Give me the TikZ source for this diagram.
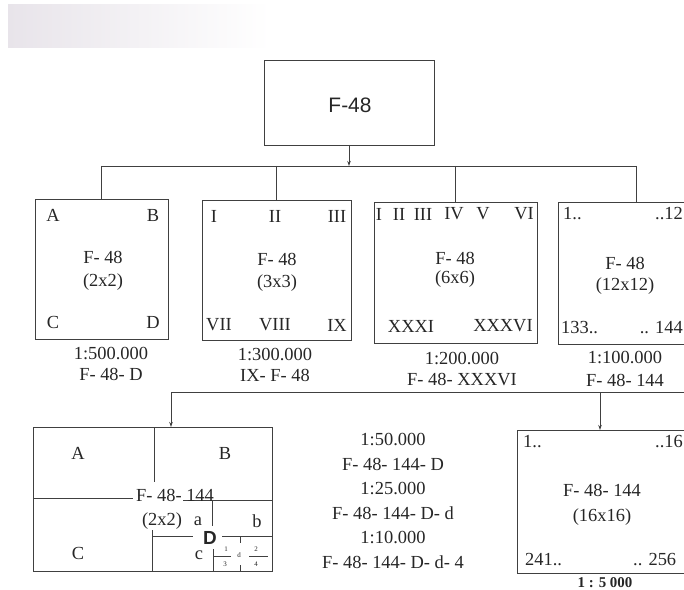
\documentclass[tikz,border=0pt]{standalone}
\usepackage{fontspec}
\setmainfont{Liberation Serif}
\newfontfamily\sansf{Liberation Sans}
\usetikzlibrary{arrows.meta}
\definecolor{scanshade}{RGB}{232,228,234}
\begin{document}
\begin{tikzpicture}[x=1bp,y=-1bp,
  line/.style={draw=black!75, line width=0.9bp},
  arr/.style={line, -{Stealth[length=5bp,width=3.5bp]}},
  box/.style={line, rectangle, inner sep=0pt, outer sep=0pt},
  txt/.style={inner sep=0pt, font=\fontsize{18.5}{21}\selectfont, text=black!85},
  tiny/.style={inner sep=0pt, font=\fontsize{7}{8}\selectfont, text=black!85},
]
\useasboundingbox (0,0) rectangle (684,590);
\shade[left color=scanshade, right color=white] (8,5) rectangle (270,48);

% top
\node[box, minimum width=170bp, minimum height=85bp] (top) at (349,102.5) {};
\node[inner sep=0pt, font=\sansf\fontsize{21}{24}\selectfont, text=black!85] (toptxt) at (350,105) {F-48};

% row 1 boxes
\node[box, minimum width=133bp, minimum height=140bp] (b1) at (101.5,269) {};
\node[box, minimum width=149bp, minimum height=140bp] (b2) at (276.5,270) {};
\node[box, minimum width=163bp, minimum height=141bp] (b3) at (455.5,272.5) {};
\node[box, minimum width=156bp, minimum height=142bp] (b4) at (636,273) {};

\coordinate (bus1) at (350,166);
\draw[arr] (top.south) -- (top.south |- bus1);
\draw[line] (b1.north |- bus1) -- (b4.north |- bus1);
\draw[line] (b1.north |- bus1) -- (b1.north);
\draw[line] (b2.north |- bus1) -- (b2.north);
\draw[line] (b3.north |- bus1) -- (b3.north);
\draw[line] (b4.north |- bus1) -- (b4.north);

% box 1 texts
\node[txt] (b1A) at (53,215) {A};
\node[txt] (b1B) at (153,215) {B};
\node[txt] (b1C) at (53,322) {C};
\node[txt] (b1D) at (153,322) {D};
\node[txt] (b1t1) at (103,257) {F- 48};
\node[txt] (b1t2) at (103,282) {(2x2)};
\node[txt] (b1s) at (111,353) {1:500.000};
\node[txt] (b1n) at (111,374) {F- 48- D};

% box 2 texts
\node[txt] (b2a) at (214,216) {I};
\node[txt] (b2b) at (275,216) {II};
\node[txt] (b2c) at (337,216) {III};
\node[txt] (b2t1) at (277,259) {F- 48};
\node[txt] (b2t2) at (277,283) {(3x3)};
\node[txt] (b2g) at (219,325) {VII};
\node[txt] (b2h) at (275,325) {VIII};
\node[txt] (b2i) at (337,325) {IX};
\node[txt] (b2s) at (275,354) {1:300.000};
\node[txt] (b2n) at (275,375) {IX- F- 48};

% box 3 texts
\node[txt] (b3r1) at (379,214) {I};
\node[txt] (b3r2) at (399,214) {II};
\node[txt] (b3r3) at (423,214) {III};
\node[txt] (b3r4) at (454,214) {IV};
\node[txt] (b3r5) at (483,214) {V};
\node[txt] (b3r6) at (524,214) {VI};
\node[txt] (b3t1) at (455,258) {F- 48};
\node[txt] (b3t2) at (455,279) {(6x6)};
\node[txt] (b3x1) at (411,326) {XXXI};
\node[txt] (b3x2) at (503,326) {XXXVI};
\node[txt] (b3s) at (462,358) {1:200.000};
\node[txt] (b3n) at (462,380) {F- 48- XXXVI};

% box 4 texts
\node[txt, anchor=west] (b4a) at (563,214) {1..};
\node[txt, anchor=east] (b4b) at (683,214) {..12};
\node[txt] (b4t1) at (625,263) {F- 48};
\node[txt] (b4t2) at (625,286) {(12x12)};
\node[txt, anchor=west] (b4c) at (561,328) {133..};
\node[txt, anchor=east] (b4d) at (683,328) {.. 144};
\node[txt] (b4s) at (625,357) {1:100.000};
\node[txt] (b4n) at (625,380) {F- 48- 144};

% row 2
\node[box, minimum width=239bp, minimum height=144bp] (b5) at (152.5,499) {};
\node[box, minimum width=183bp, minimum height=143bp] (b6) at (608.5,501.5) {};

\coordinate (bus2L) at (171,392);
\coordinate (bus2R) at (700,392);
\coordinate (d6) at (600,392);
\draw[line] (bus2L) -- (bus2R);
\draw[arr] (bus2L) -- (bus2L |- b5.north);
\draw[arr] (d6) -- (d6 |- b6.north);

% box 5 inner divisions
\draw[line] (154,427) -- (154,482);
\draw[line] (33,498) -- (133,498);
\draw[line] (183,500) -- (272,500);
\draw[line] (212,500) -- (212,526);
\draw[line] (152,530) -- (152,571);
\draw[line] (152,536) -- (193,536);
\draw[line] (222,536) -- (272,536);
\draw[line] (240,536) -- (240,543);
\draw[line] (240,565) -- (240,571);
\draw[line] (213,549) -- (213,571);
\draw[line] (213,556) -- (231,556);
\draw[line] (249,556) -- (268,556);

\node[txt] (b5A) at (78,453) {A};
\node[txt] (b5B) at (225,453) {B};
\node[txt] (b5C) at (78,553) {C};
\node[txt] (b5t1) at (175,495) {F- 48- 144};
\node[txt] (b5t2) at (162,521) {(2x2)};
\node[txt] (b5a) at (198,521) {a};
\node[txt] (b5b) at (257,521) {b};
\node[inner sep=0pt, font=\sansf\bfseries\fontsize{19}{22}\selectfont, text=black!85] (b5D) at (210,538) {D};
\node[txt] (b5c) at (199,555) {c};
\node[tiny] (q1) at (226,549) {1};
\node[tiny] (q3) at (225,564) {3};
\node[tiny] (qd) at (239,555) {d};
\node[tiny] (q2) at (256,549) {2};
\node[tiny] (q4) at (256,564) {4};

% middle column
\node[txt] (m1) at (393,439) {1:50.000};
\node[txt] (m2) at (393,464) {F- 48- 144- D};
\node[txt] (m3) at (393,488) {1:25.000};
\node[txt] (m4) at (393,513) {F- 48- 144- D- d};
\node[txt] (m5) at (393,537) {1:10.000};
\node[txt] (m6) at (393,562) {F- 48- 144- D- d- 4};

% box 6 texts
\node[txt, anchor=west] (b6a) at (523,442) {1..};
\node[txt, anchor=east] (b6b) at (683,442) {..16};
\node[txt] (b6t1) at (602,490) {F- 48- 144};
\node[txt] (b6t2) at (602,517) {(16x16)};
\node[txt, anchor=west] (b6c) at (525,560) {241..};
\node[txt, anchor=west] (b6d) at (633,560) {.. 256};
\node[inner sep=0pt, font=\bfseries\fontsize{15}{17}\selectfont, text=black!85] (b6s) at (605,583) {1 : 5 000};
\end{tikzpicture}
\end{document}
